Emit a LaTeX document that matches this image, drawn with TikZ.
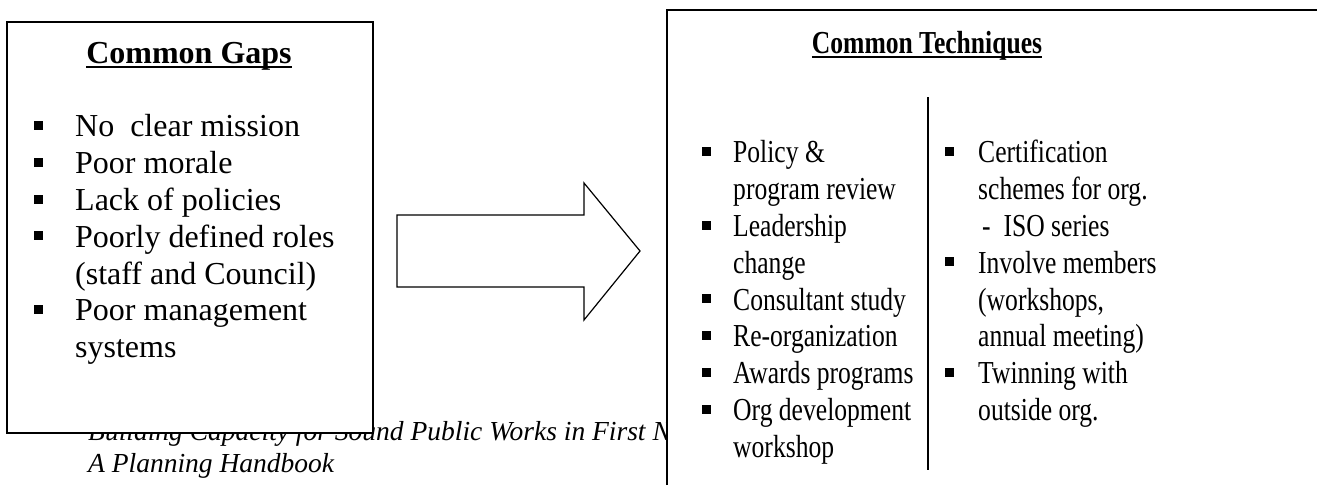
\documentclass[tikz,border=0pt]{standalone}
\usepackage{fontspec}
\setmainfont{Liberation Serif}
\newfontfamily\narrowserif[FakeStretch=0.8]{Liberation Serif}

\newcommand{\sqbul}{\rule[7pt]{9pt}{9pt}}
\newcommand{\ulhead}[1]{\setbox0\hbox{\bfseries #1}\rlap{\rule[-5pt]{\wd0}{2pt}}\box0}

\tikzset{
  panel/.style={draw, line width=1.5pt, fill=white},
  bigtext/.style={inner sep=0pt, font=\fontsize{32}{36.8}\selectfont},
  listtext/.style={bigtext, anchor=north west},
}

\begin{document}
\begin{tikzpicture}[x=1pt, y=-1pt]
  \useasboundingbox (0,0) rectangle (1317,485);

  % footer (partly hidden by the boxes)
  \node[anchor=north west, inner sep=0pt, font=\fontsize{27.5}{32}\selectfont\itshape] (footer) at (88,417.6)
    {\begin{tabular}{@{}l@{}}Building Capacity for Sound Public Works in First Nations:\\ A Planning Handbook\end{tabular}};

  % left box
  \draw[panel] (7,22) rectangle (373,433);
  \node[bigtext, anchor=base] (gapsTitle) at (189,63) {\ulhead{Common Gaps}};
  \node[listtext] (gapsList) at (34,111) {\begin{tabular}{@{}p{41pt}@{}l@{}}
    \sqbul & No~ clear mission\\
    \sqbul & Poor morale\\
    \sqbul & Lack of policies\\
    \sqbul & Poorly defined roles\\
           & (staff and Council)\\
    \sqbul & Poor management\\
           & systems
  \end{tabular}};

  % block arrow
  \draw[line width=1.2pt, line join=miter] (397,215) -- (584,215) -- (584,183) -- (640,251)
    -- (584,320) -- (584,287) -- (397,287) -- cycle;

  % right box (open to the right and bottom)
  \fill[white] (667,10) rectangle (1317,485);
  \draw[line width=1.5pt] (667,485) -- (667,10) -- (1317,10);
  \node[bigtext, anchor=base, font=\fontsize{32}{36.8}\narrowserif] (techTitle) at (927,53) {\ulhead{Common Techniques}};

  % column divider
  \draw[line width=1.5pt] (928,97) -- (928,470);

  \node[listtext, font=\fontsize{32}{36.8}\narrowserif] (techLeft) at (702,137) {\begin{tabular}{@{}p{31pt}@{}l@{}}
    \sqbul & Policy \&\\
           & program review\\
    \sqbul & Leadership\\
           & change\\
    \sqbul & Consultant study\\
    \sqbul & Re-organization\\
    \sqbul & Awards programs\\
    \sqbul & Org development\\
           & workshop
  \end{tabular}};
  \node[listtext, font=\fontsize{32}{36.8}\narrowserif] (techRight) at (945,137) {\begin{tabular}{@{}p{33pt}@{}l@{}}
    \sqbul & Certification\\
           & schemes for org.\\
           & \hspace*{4pt}-~ ISO series\\
    \sqbul & Involve members\\
           & (workshops,\\
           & annual meeting)\\
    \sqbul & Twinning with\\
           & outside org.
  \end{tabular}};
\end{tikzpicture}
\end{document}
